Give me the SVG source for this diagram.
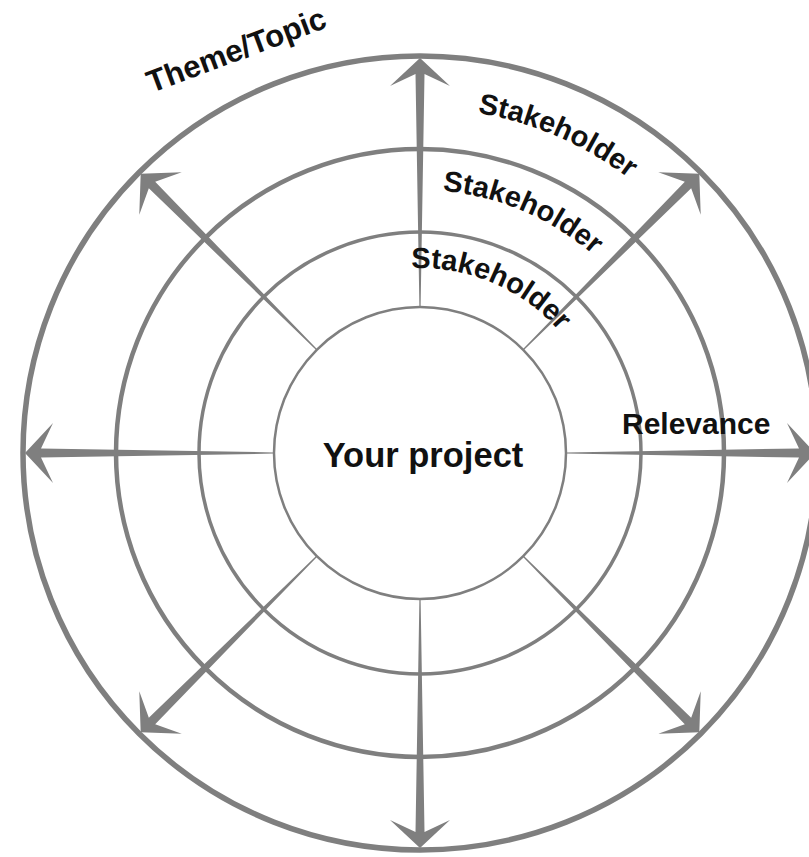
<svg xmlns="http://www.w3.org/2000/svg" width="809" height="857" viewBox="0 0 809 857">
<style>
.ring{fill:none;stroke:#7f7f7f}
.arr{fill:#7f7f7f}
.lbl{font-family:"Liberation Sans",Arial,sans-serif;font-weight:bold;fill:#111}
</style>
<defs>
<path id="arrow" d="M146,-0.6 L379,-4.5 L367,-30 L395,0 L367,30 L379,4.5 L146,0.6 Z"/>
<path id="arcIn" d="M235,453 A185,185 0 0 1 605,453"/>
<path id="arcMid" d="M157,453 A263,263 0 0 1 683,453"/>
<path id="arcOut" d="M75,453 A345,345 0 0 1 765,453"/>
</defs>
<rect width="809" height="857" fill="#fff"/>
<g id="ring-outer"><circle class="ring" cx="420" cy="453" r="397" stroke-width="5.5"/></g>
<g id="ring-3"><circle class="ring" cx="420" cy="453" r="304" stroke-width="4.5"/></g>
<g id="ring-2"><circle class="ring" cx="420" cy="453" r="221" stroke-width="3.5"/></g>
<g id="your-project"><circle class="ring" cx="420" cy="453" r="146" stroke-width="2.5"/>
<text class="lbl" x="423" y="467" font-size="34.5" text-anchor="middle">Your project</text></g>
<g id="connectors">
<use href="#arrow" class="arr" transform="translate(420,453) rotate(0)"/>
<use href="#arrow" class="arr" transform="translate(420,453) rotate(45)"/>
<use href="#arrow" class="arr" transform="translate(420,453) rotate(90)"/>
<use href="#arrow" class="arr" transform="translate(420,453) rotate(135)"/>
<use href="#arrow" class="arr" transform="translate(420,453) rotate(180)"/>
<use href="#arrow" class="arr" transform="translate(420,453) rotate(225)"/>
<use href="#arrow" class="arr" transform="translate(420,453) rotate(270)"/>
<use href="#arrow" class="arr" transform="translate(420,453) rotate(315)"/>
</g>
<g id="label-stakeholder-1"><text class="lbl" font-size="29"><textPath href="#arcIn" startOffset="62.8%" text-anchor="middle">Stakeholder</textPath></text></g>
<g id="label-stakeholder-2"><text class="lbl" font-size="29"><textPath href="#arcMid" startOffset="62.8%" text-anchor="middle">Stakeholder</textPath></text></g>
<g id="label-stakeholder-3"><text class="lbl" font-size="29"><textPath href="#arcOut" startOffset="63%" text-anchor="middle">Stakeholder</textPath></text></g>
<g id="label-relevance"><text class="lbl" x="622" y="434" font-size="30">Relevance</text></g>
<g id="label-theme"><text class="lbl" font-size="31" text-anchor="middle" transform="translate(240,60) rotate(-20.5)">Theme/Topic</text></g>
</svg>
